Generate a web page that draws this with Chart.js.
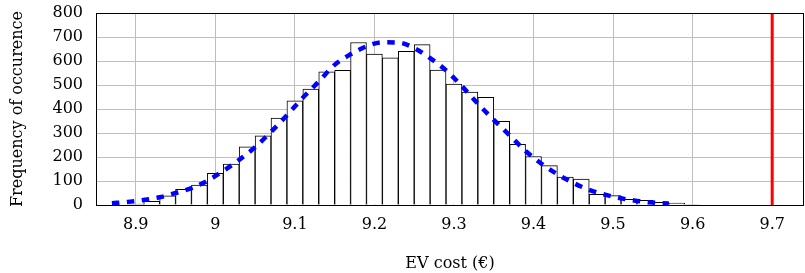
<!DOCTYPE html>
<html>
<head>
<meta charset="utf-8">
<script src="https://cdn.jsdelivr.net/npm/chart.js@4/dist/chart.umd.min.js"></script>
<style>
  body { margin: 0; background: #fff; }
  canvas { display: block; }
</style>
</head>
<body>
<canvas id="histChart" width="805" height="273"></canvas>
<script>
// histogram bins (bin centres, width 0.02)
const binCenters = [8.90, 8.92, 8.94, 8.96, 8.98, 9.00, 9.02, 9.04, 9.06, 9.08,
    9.10, 9.12, 9.14, 9.16, 9.18, 9.20, 9.22, 9.24, 9.26, 9.28,
    9.30, 9.32, 9.34, 9.36, 9.38, 9.40, 9.42, 9.44, 9.46, 9.48,
    9.50, 9.52, 9.54, 9.56, 9.58, 9.60];
const binCounts = [4, 15, 38, 65, 83, 132, 171, 242, 288, 362,
    434, 483, 555, 561, 677, 629, 613, 640, 668, 562,
    504, 470, 449, 349, 253, 202, 164, 116, 108, 44,
    39, 24, 19, 11, 8, 2];

// fitted density curve
const fitX = [8.87, 8.89, 8.91, 8.93, 8.95, 8.97, 8.99, 9.01, 9.03, 9.05,
    9.07, 9.09, 9.11, 9.13, 9.15, 9.17, 9.19, 9.21, 9.23, 9.25,
    9.27, 9.29, 9.31, 9.33, 9.35, 9.37, 9.39, 9.41, 9.43, 9.45,
    9.47, 9.49, 9.51, 9.53, 9.55, 9.57];
const fitY = [7, 13, 21, 32, 50, 70, 101, 142, 188, 241,
    305, 374, 447, 514, 584, 628, 661, 678, 677, 654,
    612, 561, 495, 422, 355, 290, 225, 172, 128, 92,
    63, 43, 28, 17, 10, 6];

// reference cost marker
const markerX = [9.7, 9.7];
const markerY = [0, 800];

const xTickValues = [8.9, 9.0, 9.1, 9.2, 9.3, 9.4, 9.5, 9.6, 9.7];
const yTickValues = [0, 100, 200, 300, 400, 500, 600, 700, 800];

Chart.defaults.font.family = "'DejaVu Serif', serif";
Chart.defaults.font.size = 16;
Chart.defaults.color = '#000';

const framePlugin = {
    id: 'frame',
    afterDraw(chart) {
        const { ctx, chartArea: a } = chart;
        ctx.save();
        ctx.strokeStyle = '#000';
        ctx.lineWidth = 1;
        ctx.strokeRect(Math.round(a.left) + 0.5, Math.round(a.top) + 0.5,
            Math.round(a.right - a.left) - 1, Math.round(a.bottom - a.top));
        ctx.restore();
    }
};

const gridColor = 'rgb(190, 190, 190)';

new Chart(document.getElementById('histChart'), {
    type: 'bar',
    data: {
        datasets: [
            {
                type: 'line',
                data: markerX.map((x, i) => ({ x: x, y: markerY[i] })),
                borderColor: '#ff0000',
                borderWidth: 3,
                pointRadius: 0,
                order: 1
            },
            {
                type: 'line',
                data: fitX.map((x, i) => ({ x: x, y: fitY[i] })),
                borderColor: '#0000ff',
                borderWidth: 4.5,
                borderDash: [7.5, 7.5],
                borderCapStyle: 'butt',
                cubicInterpolationMode: 'monotone',
                pointRadius: 0,
                fill: false,
                order: 2
            },
            {
                type: 'bar',
                data: binCenters.map((x, i) => ({ x: x, y: binCounts[i] })),
                backgroundColor: '#ffffff',
                borderColor: '#000000',
                borderWidth: 1,
                borderSkipped: 'bottom',
                barPercentage: 1,
                categoryPercentage: 1,
                order: 3
            }
        ]
    },
    options: {
        responsive: false,
        animation: false,
        layout: { padding: { top: 13, right: 1, left: 0, bottom: 0 } },
        plugins: {
            legend: { display: false },
            tooltip: { enabled: false }
        },
        scales: {
            x: {
                type: 'linear',
                offset: false,
                min: 8.85,
                max: 9.74,
                afterFit(scale) { scale.height = 68; },
                afterBuildTicks(scale) { scale.ticks = xTickValues.map(v => ({ value: v })); },
                grid: { offset: false, color: gridColor, drawTicks: false },
                border: { display: false },
                ticks: {
                    padding: 10,
                    maxRotation: 0,
                    autoSkip: false,
                    callback: v => String(Math.round(v * 10) / 10)
                },
                title: {
                    display: true,
                    text: 'EV cost (€)',
                    font: { size: 16, lineHeight: 1.2 },
                    padding: { top: 0, bottom: 0 }
                }
            },
            y: {
                min: 0,
                max: 800,
                afterFit(scale) {
                    scale.width = 96;
                    scale.paddingTop = 0;
                    scale.paddingBottom = 0;
                },
                afterBuildTicks(scale) { scale.ticks = yTickValues.map(v => ({ value: v })); },
                grid: { color: gridColor, drawTicks: false },
                border: { display: false },
                ticks: { padding: 13 },
                title: {
                    display: true,
                    text: 'Frequency of occurence',
                    font: { size: 16, lineHeight: 1.2 },
                    padding: { top: 8, bottom: 0 }
                }
            }
        }
    },
    plugins: [framePlugin]
});
</script>
</body>
</html>
